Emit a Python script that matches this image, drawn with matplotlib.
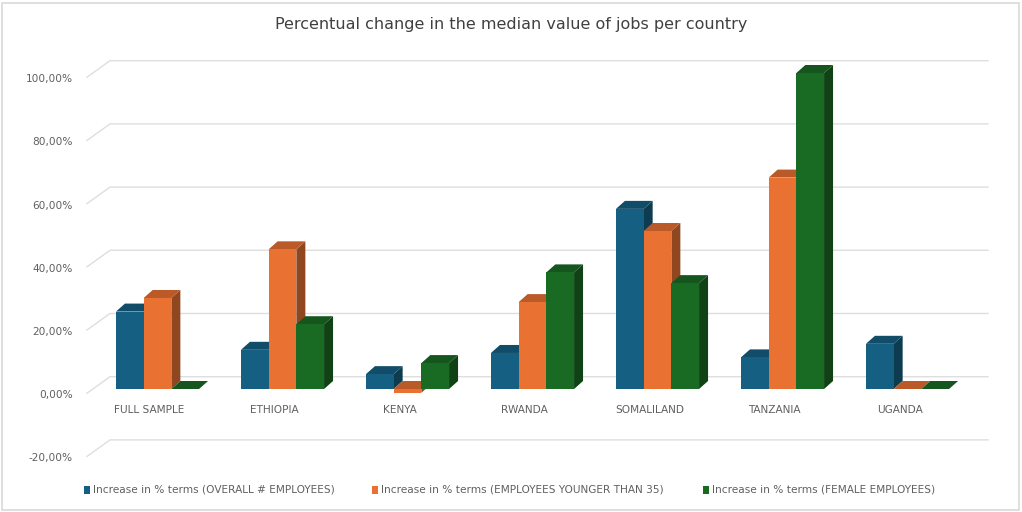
import matplotlib

matplotlib.use("Agg")
import matplotlib.pyplot as plt
from matplotlib.patches import Polygon, Rectangle
from matplotlib.colors import to_rgb

TITLE = "Percentual change in the median value of jobs per country"
COUNTRIES = ["FULL SAMPLE", "ETHIOPIA", "KENYA", "RWANDA",
             "SOMALILAND", "TANZANIA", "UGANDA"]
SERIES = [
    "Increase in % terms (OVERALL # EMPLOYEES)",
    "Increase in % terms (EMPLOYEES YOUNGER THAN 35)",
    "Increase in % terms (FEMALE EMPLOYEES)",
]
# values in percent
OVERALL = [24.5, 12.4, 4.7, 11.4, 57.0, 10.0, 14.3]
YOUNG = [28.8, 44.2, -1.2, 27.5, 50.0, 66.9, 0.0]
FEMALE = [0.0, 20.5, 8.2, 36.9, 33.5, 100.0, 0.0]
TICKS = [-20, 0, 20, 40, 60, 80, 100]

COLORS = ["#156082", "#E97132", "#196B24"]
TXT = "#606060"
FS = 7.6

W, H = 1022, 512
fig = plt.figure(figsize=(W / 100, H / 100), dpi=100)
ax = fig.add_axes([0, 0, 1, 1])

# pixel geometry of the pseudo-3D plot
X0, GROUP = 157.5, 125.0          # front centre of first group, group pitch
Y0, PPU = 389.0, 3.16             # front baseline, pixels per percent
xlim = (-X0 / GROUP, (W - X0) / GROUP)
ylim = ((Y0 - H) / PPU, Y0 / PPU)
ax.set_xlim(*xlim)
ax.set_ylim(*ylim)
ax.axis("off")


def px_x(p):
    return (p - X0) / GROUP


def px_dy(p):
    return p / PPU


def shade(c, f):
    r, g, b = to_rgb(c)
    return (r * f, g * f, b * f)


# back wall gridlines with the receding side-wall segment
back_dy = px_dy(12.3)
wall_dy = px_dy(16.5)
for t in TICKS:
    yb = t + back_dy
    ax.plot([px_x(87), px_x(110), px_x(988)], [yb - wall_dy, yb, yb],
            color="#dedede", lw=1.0, zorder=0, solid_joinstyle="miter")
    ax.text(px_x(73), yb - wall_dy - px_dy(2), f"{t:.2f}%".replace(".", ","),
            ha="right", va="center", fontsize=FS, color=TXT)

# 3D-looking columns
bw = 27.7 / GROUP
ddx, ddy = 9.0 / GROUP, px_dy(8.0)
for j, (vals, col) in enumerate(zip([OVERALL, YOUNG, FEMALE], COLORS)):
    for i, v in enumerate(vals):
        left = i + (j - 1.5) * bw
        lo, hi = min(0, v), max(0, v)
        right = left + bw
        z = 2 + i * 3 + j
        ax.add_patch(Polygon([(right, lo), (right + ddx, lo + ddy),
                              (right + ddx, hi + ddy), (right, hi)],
                             closed=True, fc=shade(col, 0.62), ec="none",
                             zorder=z))
        ax.add_patch(Polygon([(left, hi), (left + ddx, hi + ddy),
                              (right + ddx, hi + ddy), (right, hi)],
                             closed=True, fc=shade(col, 0.8), ec="none",
                             zorder=z))
        ax.add_patch(Rectangle((left, lo), bw, hi - lo, fc=col, ec="none",
                               zorder=z))

for i, name in enumerate(COUNTRIES):
    ax.text(i - 8 / GROUP, px_dy(Y0 - 410), name, ha="center", va="center",
            fontsize=FS, color=TXT)

# legend along the bottom
leg_x = [87, 375, 706]
for px, name, col in zip(leg_x, SERIES, COLORS):
    ax.add_patch(Rectangle((px_x(px - 3), px_dy(Y0 - 494)), 6 / GROUP,
                           px_dy(8), fc=col, ec="none"))
    ax.text(px_x(px + 6), px_dy(Y0 - 490), name, ha="left", va="center",
            fontsize=FS, color=TXT)

fig.text(0.5, 1 - 24 / H, TITLE, ha="center", va="center",
         fontsize=11.5, color="#404040")

fig.patches.append(Rectangle((2 / W, 2 / H), 1 - 5 / W, 1 - 5 / H,
                             transform=fig.transFigure, fill=False,
                             ec="#d9d9d9", lw=1.2))

fig.savefig("out.png", dpi=100)
